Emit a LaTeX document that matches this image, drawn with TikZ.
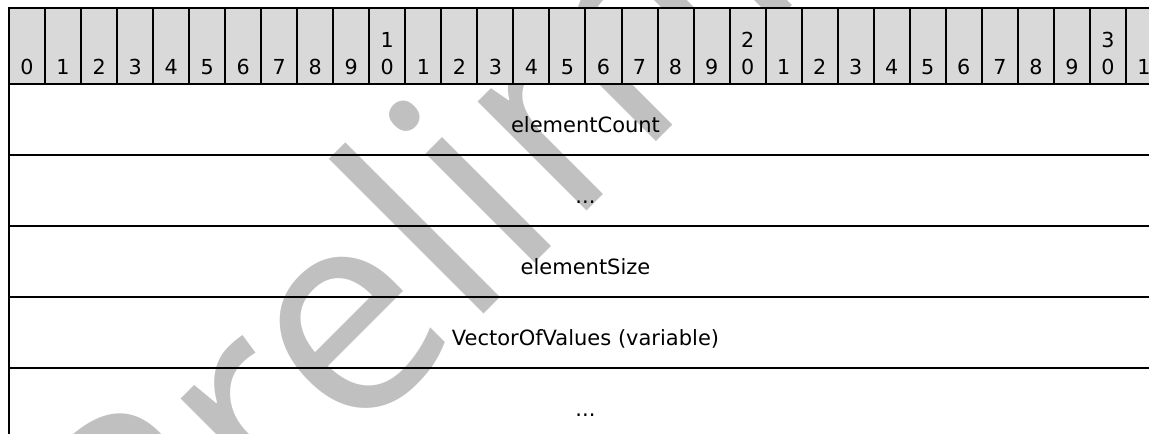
\documentclass[tikz,border=0pt]{standalone}
\usepackage{fontspec}
\setmainfont{DejaVu Sans}
\newfontfamily\wmfont{Open Sans}
\definecolor{hdrgray}{HTML}{D9D9D9}
\definecolor{wmgray}{HTML}{C0C0C0}
\begin{document}
\begin{tikzpicture}[x=0.75pt,y=-0.75pt,
  gridline/.style={line width=1.5pt, draw=black},
  bitnum/.style={font=\fontsize{15.5}{18}\selectfont, inner sep=0pt, anchor=base},
  field/.style={font=\fontsize{15.75}{19}\selectfont, inner sep=0pt, anchor=base},
  wm/.style={font=\wmfont\fontsize{216}{240}\selectfont, text=wmgray, inner sep=0pt, anchor=base west, rotate=45}]
\useasboundingbox (0,0) rectangle (1149,433);
\clip (0,0) rectangle (1149,433);
% watermark
\node[wm] (wm) at (150,648) {Preliminary};
% header
\fill[hdrgray] (8,8) rectangle (1162,84);
\foreach \k in {0,...,31}{
  \pgfmathtruncatemacro\uu{mod(\k,10)}
  \pgfmathtruncatemacro\tt{int(\k/10)}
  \node[bitnum] (b\k) at ({9+36.03*(\k+0.5)},74) {\uu};
  \ifnum\k>9 \ifnum\uu=0
    \node[bitnum] (t\k) at ({9+36.03*(\k+0.5)},47) {\tt};
  \fi\fi
}
\foreach \k in {0,...,32}{
  \draw[gridline] ({9+36.03*\k},8) -- ({9+36.03*\k},84);
}
\draw[gridline] (8,8) -- (1162,8);
\draw[gridline] (8,84) -- (1162,84);
\draw[gridline] (8,155) -- (1162,155);
\draw[gridline] (8,226) -- (1162,226);
\draw[gridline] (8,297) -- (1162,297);
\draw[gridline] (8,368) -- (1162,368);
\draw[gridline] (9,8) -- (9,440);
% fields
\node[field] (f1) at (585.5,132) {elementCount};
\node[field] (f2) at (585.5,203) {...};
\node[field] (f3) at (585.5,274) {elementSize};
\node[field] (f4) at (585.5,345) {VectorOfValues (variable)};
\node[field] (f5) at (585.5,416) {...};
\end{tikzpicture}
\end{document}
